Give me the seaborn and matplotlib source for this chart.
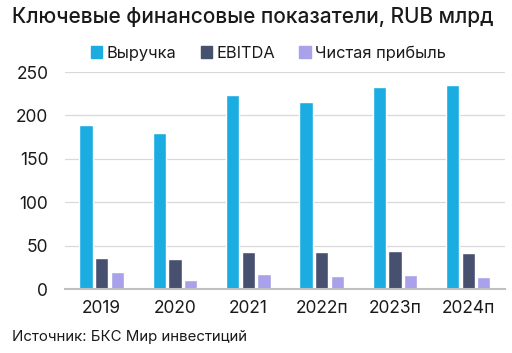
import pandas as pd
import matplotlib
matplotlib.use("Agg")
import matplotlib.pyplot as plt
from matplotlib.patches import Patch
import seaborn as sns

years = ["2019", "2020", "2021", "2022п", "2023п", "2024п"]
revenue = [189, 180, 224, 215, 233, 235]
ebitda = [36, 35, 43, 43, 44, 42]
net_profit = [20, 11, 17, 15, 16, 14]
series = ["Выручка", "EBITDA", "Чистая прибыль"]
colors = ["#1BACE2", "#47506F", "#A9A1E9"]

df = pd.DataFrame({"year": years, series[0]: revenue, series[1]: ebitda, series[2]: net_profit})
df = df.melt(id_vars="year", var_name="metric", value_name="value")

sns.set_theme(style="white")
plt.rcParams["font.family"] = ["Inter", "DejaVu Sans"]

fig = plt.figure(figsize=(5.12, 3.53), dpi=100)
ax = fig.add_axes([0.127, 0.181, 0.859, 0.615])

sns.barplot(data=df, x="year", y="value", hue="metric", palette=colors,
            width=0.64, gap=0.15, ax=ax, legend=False, saturation=1)

ax.set_ylim(0, 250)
ax.set_yticks([0, 50, 100, 150, 200, 250])
ax.set_xlabel("")
ax.set_ylabel("")
ax.grid(axis="y", color="#D9D9D9", linewidth=0.9)
ax.set_axisbelow(True)
for s in ["top", "right", "left"]:
    ax.spines[s].set_visible(False)
ax.spines["bottom"].set_color("#BFBFBF")
ax.spines["bottom"].set_linewidth(1.5)
ax.tick_params(axis="both", length=0, labelsize=12.5, colors="#1A1A1A")
ax.tick_params(axis="x", pad=8)
ax.tick_params(axis="y", pad=12)

handles = [Patch(color=c) for c in colors]
fig.legend(handles, series, loc="center", bbox_to_anchor=(0.524, 0.85), ncol=3,
           frameon=False, fontsize=11.8, handlelength=0.7, handleheight=0.7,
           handletextpad=0.25, columnspacing=1.5, labelcolor="#1A1A1A")

fig.text(0.023, 0.952, "Ключевые финансовые показатели, RUB млрд", fontsize=15,
         fontweight="medium", color="#1A1A1A", va="center", ha="left")
fig.text(0.023, 0.045, "Источник: БКС Мир инвестиций", fontsize=10.8,
         color="#1A1A1A", va="center", ha="left")

fig.savefig("out.png", dpi=100)
